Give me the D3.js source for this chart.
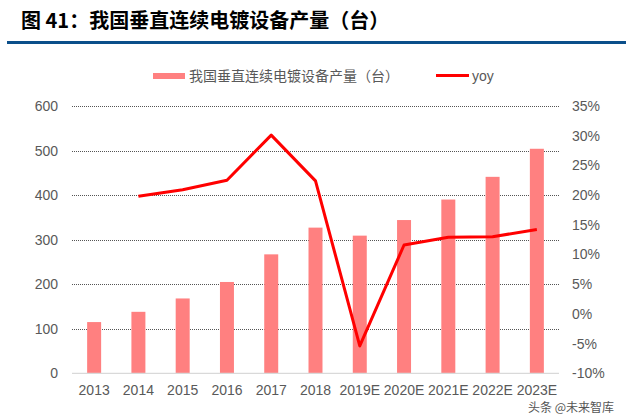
<!DOCTYPE html>
<html><head><meta charset="utf-8">
<script src="https://cdn.jsdelivr.net/npm/d3@7"></script>
<style>
body{margin:0;background:#fff;}
svg{display:block;}
</style></head>
<body>
<svg id="chart" width="626" height="414"></svg>
<script>
const categories = ["2013","2014","2015","2016","2017","2018","2019E","2020E","2021E","2022E","2023E"];
const output = [115, 138, 168, 205, 267, 327, 309, 344, 390, 441, 504];
const yoy = [null, 19.8, 20.9, 22.5, 30.1, 22.4, -5.4, 11.6, 12.9, 13.0, 14.2];
const leftTicks = [0,100,200,300,400,500,600];
const rightTicks = [-10,-5,0,5,10,15,20,25,30,35];
const titleText = "图 41：我国垂直连续电镀设备产量（台）";
const barLabel = "我国垂直连续电镀设备产量（台）";
const lineLabel = "yoy";

(function(){
const svg = d3.select("#chart");
const font = "'Liberation Sans', Arial, 'Noto Sans CJK SC', sans-serif";
const cjk = "'Noto Sans CJK SC', sans-serif";

const pL = 72, pR = 559, pT = 106, pB = 373.3;
const x = d3.scaleBand().domain(categories).range([pL, pR]).paddingInner(0.684).paddingOuter(0.342);
const y = d3.scaleLinear().domain([0, 600]).range([pB, pT]);
const y2 = d3.scaleLinear().domain([-10, 35]).range([pB, pT]);

// title
svg.append("text").attr("x", 21).attr("y", 28).attr("font-family", cjk).attr("font-weight", "bold")
  .attr("font-size", 20).attr("fill", "#000").text(titleText);
svg.append("rect").attr("x", 7).attr("y", 41).attr("width", 619).attr("height", 3).attr("fill", "#0b4f8a");

// gridlines
svg.append("g").selectAll("line").data(leftTicks.filter(d => d > 0)).join("line")
  .attr("x1", pL).attr("x2", pR).attr("y1", d => Math.round(y(d)) + 0.5).attr("y2", d => Math.round(y(d)) + 0.5)
  .attr("stroke", "#555").attr("stroke-width", 1).attr("stroke-dasharray", "1,1");

// bars
svg.append("g").selectAll("rect").data(categories).join("rect")
  .attr("x", d => x(d)).attr("width", x.bandwidth())
  .attr("y", (d, i) => y(output[i])).attr("height", (d, i) => pB - y(output[i]))
  .attr("fill", "#ff8080");

// baseline
svg.append("line").attr("x1", pL).attr("x2", pR).attr("y1", pB).attr("y2", pB)
  .attr("stroke", "#d9d9d9").attr("stroke-width", 1.2);

// line
const pts = categories.map((c, i) => ({c, v: yoy[i]})).filter(d => d.v !== null);
svg.append("path").datum(pts)
  .attr("d", d3.line().x(d => x(d.c) + x.bandwidth() / 2).y(d => y2(d.v)))
  .attr("fill", "none").attr("stroke", "#ff0000").attr("stroke-width", 3).attr("stroke-linejoin", "round");

// left axis
const gL = svg.append("g").attr("transform", `translate(${pL},0)`)
  .call(d3.axisLeft(y).tickValues(leftTicks).tickSize(0).tickPadding(14));
gL.select(".domain").remove();
gL.selectAll("text").attr("font-family", font).attr("font-size", 14).attr("fill", "#595959");

// right axis
const gR = svg.append("g").attr("transform", `translate(${pR},0)`)
  .call(d3.axisRight(y2).tickValues(rightTicks).tickSize(0).tickPadding(13).tickFormat(d => d + "%"));
gR.select(".domain").remove();
gR.selectAll("text").attr("font-family", font).attr("font-size", 14).attr("fill", "#595959");

// bottom axis
const gB = svg.append("g").attr("transform", `translate(0,${pB})`)
  .call(d3.axisBottom(x).tickSize(0).tickPadding(12));
gB.select(".domain").remove();
gB.selectAll("text").attr("font-family", font).attr("font-size", 14).attr("fill", "#595959");

// legend
svg.append("rect").attr("x", 153).attr("y", 73).attr("width", 32).attr("height", 6).attr("fill", "#ff8080");
svg.append("text").attr("x", 189).attr("y", 81).attr("font-family", cjk).attr("font-size", 14).attr("fill", "#595959").text(barLabel);
svg.append("line").attr("x1", 436).attr("x2", 469).attr("y1", 75.5).attr("y2", 75.5).attr("stroke", "#ff0000").attr("stroke-width", 3);
svg.append("text").attr("x", 472).attr("y", 81).attr("font-family", font).attr("font-size", 14).attr("fill", "#595959").text(lineLabel);

// watermark (placed below the axis labels to avoid overlap)
svg.append("text").attr("x", 528).attr("y", 412).attr("font-family", cjk).attr("font-size", 12)
  .attr("fill", "#555").text("头条 @未来智库");
})();
</script>
</body></html>
